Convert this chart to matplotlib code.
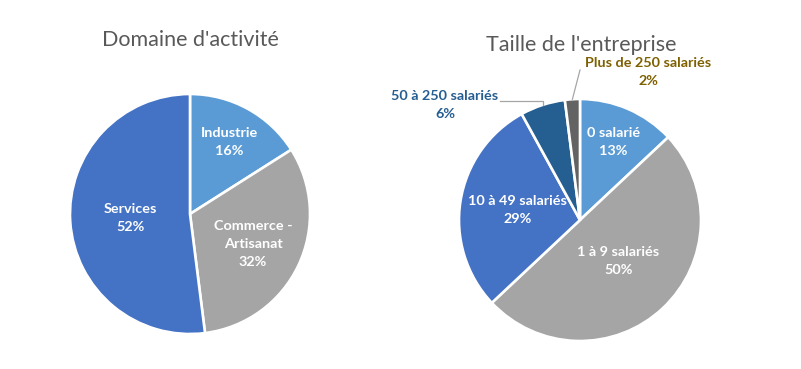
import matplotlib
matplotlib.use("Agg")
import matplotlib.pyplot as plt
import numpy as np

left_title = "Domaine d'activité"
left_labels = ["Industrie", "Commerce -\nArtisanat", "Services"]
left_values = [16, 32, 52]

right_title = "Taille de l'entreprise"
right_labels = ["0 salarié", "1 à 9 salariés", "10 à 49 salariés",
                "50 à 250 salariés", "Plus de 250 salariés"]
right_values = [13, 50, 29, 6, 2]

plt.rcParams['font.family'] = ['Lato', 'DejaVu Sans']

W, H = 801, 369
fig = plt.figure(figsize=(8.01, 3.69), dpi=100)
ax = fig.add_axes([0, 0, 1, 1])
ax.set_xlim(0, W)
ax.set_ylim(0, H)
ax.set_aspect('equal')
ax.axis('off')

left_colors = ['#5B9BD5', '#A5A5A5', '#4472C4']
right_colors = ['#5B9BD5', '#A5A5A5', '#4472C4', '#255E91', '#636363']

LBL_FS = 10.4
LS = 1.6

def mid_angles(values):
    v = np.asarray(values, float)
    cum = np.cumsum(v) - v / 2
    return 360.0 * cum / v.sum()

def draw_pie(center, r, values, colors):
    ax.pie(values, colors=colors, startangle=90, counterclock=False,
           center=center, radius=r, frame=True,
           wedgeprops=dict(edgecolor='white', linewidth=1.9))

def polar(center, r, theta):
    t = np.deg2rad(theta)
    return center[0] + r * np.sin(t), center[1] + r * np.cos(t)

# Left pie
lc, lr = (190, H - 214), 120
draw_pie(lc, lr, left_values, left_colors)
ax.set_xlim(0, W); ax.set_ylim(0, H); ax.axis('off')
ld = [0.68, 0.58, 0.5]
for lab, v, th, d in zip(left_labels, left_values, mid_angles(left_values), ld):
    x, y = polar(lc, lr * d, th)
    ax.text(x, y, f"{lab}\n{v}%", ha='center', va='center', color='white',
            fontsize=LBL_FS, fontweight='bold', linespacing=LS)

ax.text(190, H - 40, left_title, ha='center', va='center', fontsize=15.5,
        color='#595959')

# Right pie
rc, rr = (580, H - 220), 121
draw_pie(rc, rr, right_values, right_colors)
ax.set_xlim(0, W); ax.set_ylim(0, H); ax.axis('off')
rth = mid_angles(right_values)
rd = [0.70, 0.46, 0.52]
for lab, v, th, d in zip(right_labels[:3], right_values[:3], rth[:3], rd):
    x, y = polar(rc, rr * d, th)
    ax.text(x, y, f"{lab}\n{v}%", ha='center', va='center', color='white',
            fontsize=LBL_FS, fontweight='bold', linespacing=LS)

# outside labels with leader lines
ex, ey = polar(rc, rr, rth[3])
ax.plot([500, ex, ex], [H - 101, H - 101, ey], color='#A6A6A6', lw=0.9)
ax.text(445, H - 105, f"{right_labels[3]}\n{right_values[3]}%", ha='center',
        va='center', color='#255E91', fontsize=LBL_FS, fontweight='bold',
        linespacing=LS)

ex, ey = polar(rc, rr, rth[4])
ax.plot([ex, 580], [ey, H - 70], color='#A6A6A6', lw=0.9)
ax.text(648, H - 72, f"{right_labels[4]}\n{right_values[4]}%", ha='center',
        va='center', color='#7F6000', fontsize=LBL_FS, fontweight='bold',
        linespacing=LS)

ax.text(581, H - 45, right_title, ha='center', va='center', fontsize=15.5,
        color='#595959')

fig.savefig("out.png", dpi=100, facecolor='white')
